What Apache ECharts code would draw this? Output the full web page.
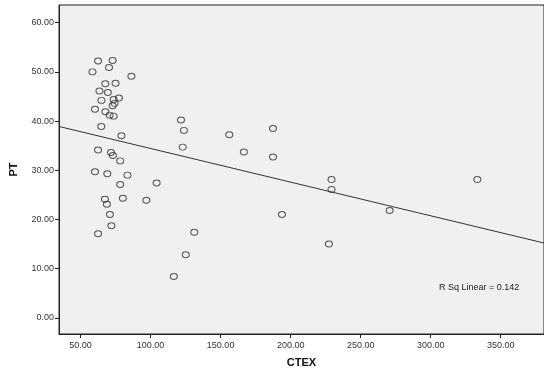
<!DOCTYPE html>
<html><head><meta charset="utf-8">
<script src="https://cdn.jsdelivr.net/npm/echarts@6/dist/echarts.min.js"></script>
<style>html,body{margin:0;padding:0;background:#fff}#c{width:544px;height:373px}</style>
</head><body><div id="c"></div>
<script>
const ctex = [62.5,72.9,58.5,70.3,86.3,67.7,75.0,63.5,69.5,64.9,73.6,77.4,74.3,72.9,60.3,67.7,70.8,73.6,64.8,79.2,62.5,71.7,73.1,78.3,60.3,69.1,83.5,78.3,67.4,68.8,80.2,71.0,72.0,62.5,104.3,97.0,121.7,123.8,122.9,156.2,187.4,166.6,187.4,193.8,131.2,125.1,116.6,229.2,229.2,270.7,227.3,333.3];
const pt   = [52.2,52.3,50.0,50.9,49.1,47.6,47.7,46.1,45.8,44.2,44.4,44.7,43.6,43.1,42.4,41.9,41.2,41.0,38.9,37.0,34.1,33.6,33.0,31.9,29.7,29.3,29.0,27.1,24.1,23.1,24.3,21.0,18.7,17.1,27.4,23.9,40.2,38.1,34.7,37.2,38.5,33.7,32.7,21.0,17.4,12.8,8.4,28.1,26.1,21.8,15.0,28.1];
const fitX = [34.6, 380.9];
const fitY = [38.9, 15.2];
const xTicks = [50,100,150,200,250,300,350];
const yTicks = [0,10,20,30,40,50,60];
const rsqText = 'R Sq Linear = 0.142';

const pts = ctex.map((x,i)=>[x,pt[i]]);
const line = fitX.map((x,i)=>[x,fitY[i]]);
const font = 'Liberation Sans, Arial, sans-serif';
const chart = echarts.init(document.getElementById('c'));
chart.setOption({
  animation:false,
  backgroundColor:'#ffffff',
  grid:{left:55,top:5,right:-2,bottom:38,show:true,backgroundColor:'#F0F0F0',borderColor:'#222',borderWidth:1},
  xAxis:{type:'value',min:34.6,max:380.9,
    name:'CTEX',nameLocation:'middle',nameGap:23,
    nameTextStyle:{fontFamily:font,fontSize:11,fontWeight:'bold',color:'#111'},
    axisLine:{show:true,onZero:false,lineStyle:{color:'#222',width:1}},
    axisTick:{show:true,length:4,customValues:xTicks,lineStyle:{color:'#222'}},
    axisLabel:{customValues:xTicks,formatter:v=>v.toFixed(2),fontFamily:font,fontSize:9,color:'#333',margin:7},
    splitLine:{show:false}},
  yAxis:{type:'value',min:-3.3,max:63.6,
    name:'PT',nameLocation:'middle',nameGap:40,
    nameTextStyle:{fontFamily:font,fontSize:11,fontWeight:'bold',color:'#111'},
    axisLine:{show:true,onZero:false,lineStyle:{color:'#222',width:1}},
    axisTick:{show:true,length:4,customValues:yTicks,lineStyle:{color:'#222'}},
    axisLabel:{customValues:yTicks,formatter:v=>v.toFixed(2),fontFamily:font,fontSize:9,color:'#333',margin:5},
    splitLine:{show:false}},
  series:[
    {type:'line',data:line,symbol:'none',lineStyle:{color:'#333',width:1},silent:true,z:2},
    {type:'scatter',data:pts,symbol:'circle',symbolSize:[7,6],
      itemStyle:{color:'rgba(0,0,0,0)',borderColor:'#333',borderWidth:1},z:3}
  ],
  graphic:[{type:'text',left:439,top:283,style:{text:rsqText,font:'9px '+font,fill:'#222'}}]
});
</script></body></html>
